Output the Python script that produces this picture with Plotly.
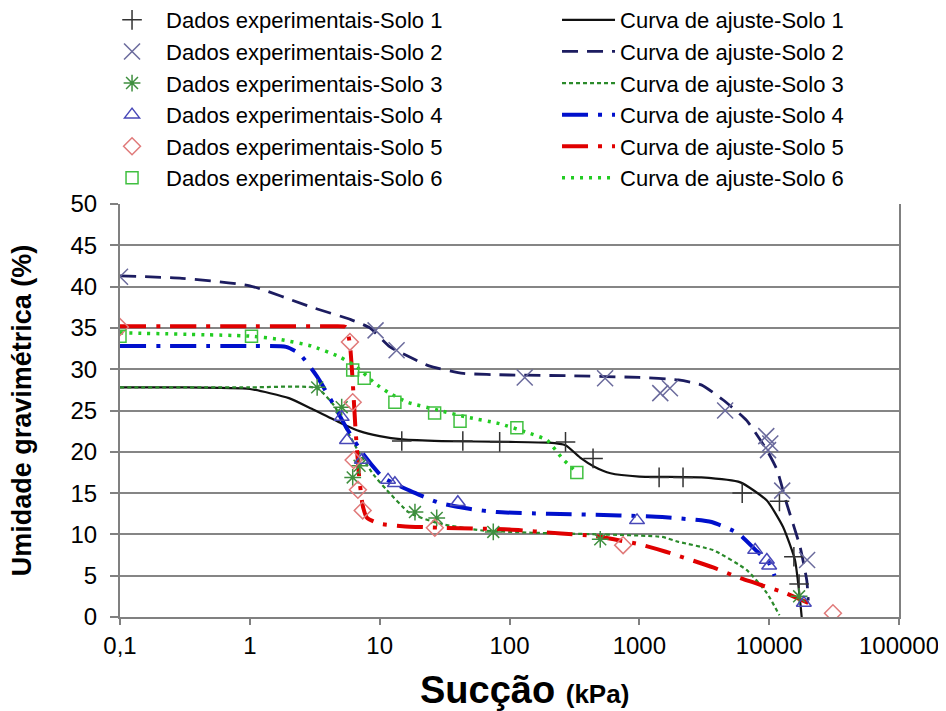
import plotly.graph_objects as go

# ---------------- data ----------------
# Experimental data
solo1_x = [14.8, 43.7, 84, 270, 440, 1420, 2170, 6200, 12000, 15500, 17000]
solo1_y = [21.3, 21.3, 21.2, 21.2, 19.2, 16.9, 16.9, 15.0, 14.0, 7.3, 4.0]

solo2_x = [0.1, 9.3, 13.5, 131, 545, 1450, 1720, 4580, 9500, 10200, 9800, 12600, 19600]
solo2_y = [41.2, 34.7, 32.3, 29.0, 28.9, 27.1, 27.7, 25.0, 21.9, 21.0, 20.2, 15.3, 6.9]

solo3_x = [3.3, 5.1, 6.2, 7.0, 18.7, 27.5, 75, 500, 17000]
solo3_y = [27.8, 25.4, 16.9, 18.3, 12.7, 12.0, 10.3, 9.4, 2.5]

solo4_x = [5.1, 5.6, 7.3, 11.6, 13.1, 40, 960, 7800, 9600, 10000, 18500]
solo4_y = [24.2, 21.4, 19.0, 16.6, 16.2, 13.9, 11.7, 8.1, 6.9, 6.2, 1.7]

solo5_x = [0.1, 5.9, 6.2, 6.3, 6.8, 7.4, 26.6, 750, 31000]
solo5_y = [35.1, 33.3, 26.0, 19.0, 15.4, 12.9, 10.8, 8.7, 0.45]

solo6_x = [0.1, 1.03, 6.2, 7.6, 13.1, 26.5, 41.6, 114, 330]
solo6_y = [34.0, 34.0, 29.9, 28.9, 26.0, 24.7, 23.7, 22.9, 17.5]

# Fitted curves
curva1_x = [0.1, 0.3, 1, 2, 3, 5, 7, 10, 15, 30, 100, 200, 270, 350, 450, 600, 1000, 3000, 6000, 9600, 12800, 15800, 17300, 17800]
curva1_y = [27.8, 27.8, 27.6, 26.5, 25.2, 23.5, 22.5, 21.9, 21.5, 21.3, 21.2, 21.1, 20.8, 19.3, 18.2, 17.4, 17.0, 16.9, 16.3, 14.1, 10.9, 6.9, 2.0, 0.0]

curva2_x = [0.1, 0.3, 1, 3, 6, 8.4, 12, 18, 24, 44, 100, 300, 1000, 2000, 3000, 4400, 6700, 9600, 11500, 13600, 17300, 19500, 20000]
curva2_y = [41.3, 41.0, 40.1, 37.5, 36.0, 35.0, 32.7, 31.3, 30.4, 29.5, 29.3, 29.2, 29.0, 28.7, 28.1, 26.3, 23.8, 20.2, 17.8, 13.8, 8.5, 4.4, 2.0]

curva3_x = [0.1, 1, 3.3, 4.5, 5.6, 7, 9, 11.3, 17, 29, 60, 150, 500, 1500, 2000, 3700, 6700, 9600, 12000]
curva3_y = [27.8, 27.8, 27.7, 25.5, 22.6, 19.8, 17.2, 15.4, 12.6, 11.3, 10.5, 10.2, 10.0, 9.7, 9.1, 8.1, 5.7, 2.9, 0.2]

curva4_x = [0.1, 1, 1.9, 2.4, 3.3, 4.5, 5.5, 7.4, 10.6, 17, 29, 49, 80, 200, 700, 1500, 3600, 5800, 8000, 10000, 11000]
curva4_y = [32.8, 32.8, 32.7, 31.9, 29.1, 25.5, 23.0, 19.8, 16.9, 15.3, 13.8, 13.1, 12.7, 12.5, 12.3, 12.1, 11.5, 10.1, 8.0, 6.5, 5.0]

curva5_x = [0.1, 1, 4.5, 5.5, 5.9, 6.2, 6.5, 6.9, 7.4, 8, 10, 15, 30, 100, 250, 450, 1000, 1600, 3700, 6000, 13300, 20000]
curva5_y = [35.2, 35.2, 35.2, 35.1, 33.0, 28.5, 23.0, 17.5, 13.5, 12.0, 11.3, 11.0, 10.8, 10.6, 10.1, 9.8, 8.8, 7.9, 6.0, 4.7, 2.9, 1.7]

curva6_x = [0.1, 1, 1.7, 3, 4.9, 6.6, 9.2, 11.6, 16.4, 29, 47, 84, 145, 195, 255, 330]
curva6_y = [34.4, 34.0, 33.6, 32.8, 31.5, 30.3, 28.3, 27.2, 26.0, 25.0, 24.2, 23.4, 22.2, 21.4, 19.2, 17.5]

tick_vals = [0.1, 1, 10, 100, 1000, 10000, 100000]
tick_text = ["0,1", "1", "10", "100", "1000", "10000", "100000"]

data_names = ["Dados experimentais-Solo 1", "Dados experimentais-Solo 2", "Dados experimentais-Solo 3",
              "Dados experimentais-Solo 4", "Dados experimentais-Solo 5", "Dados experimentais-Solo 6"]
curve_names = ["Curva de ajuste-Solo 1", "Curva de ajuste-Solo 2", "Curva de ajuste-Solo 3",
               "Curva de ajuste-Solo 4", "Curva de ajuste-Solo 5", "Curva de ajuste-Solo 6"]

# ---------------- styles ----------------
FONT = "Arial, 'Liberation Sans', sans-serif"
data_sets = [(solo1_x, solo1_y), (solo2_x, solo2_y), (solo3_x, solo3_y),
             (solo4_x, solo4_y), (solo5_x, solo5_y), (solo6_x, solo6_y)]
curve_sets = [(curva1_x, curva1_y), (curva2_x, curva2_y), (curva3_x, curva3_y),
              (curva4_x, curva4_y), (curva5_x, curva5_y), (curva6_x, curva6_y)]
marker_styles = [
    dict(symbol="cross-thin-open", size=14, line=dict(color="#333333", width=1.5)),
    dict(symbol="x-thin-open", size=16, line=dict(color="#6a6a9c", width=1.5)),
    dict(symbol="asterisk-open", size=14, line=dict(color="#3f8f3f", width=1.5)),
    dict(symbol="triangle-up-open", size=13, line=dict(color="#4848b8", width=1.5)),
    dict(symbol="diamond-open", size=13, line=dict(color="#e07a7a", width=1.5)),
    dict(symbol="square-open", size=12, line=dict(color="#40c040", width=1.5)),
]
marker_colors = ["#333333", "#6a6a9c", "#3f8f3f", "#4848b8", "#e07a7a", "#40c040"]
line_styles = [
    dict(color="#111111", width=2.2, dash="solid"),
    dict(color="#1c1c60", width=2.8, dash="16px,9px"),
    dict(color="#2a8a2a", width=2.2, dash="4px,3px"),
    dict(color="#0010cc", width=4, dash="26px,10px,4px,10px"),
    dict(color="#e00000", width=4, dash="26px,10px,4px,10px"),
    dict(color="#22cc22", width=3.5, dash="3px,6px"),
]

fig = go.Figure()

for i, (cx, cy) in enumerate(curve_sets):
    fig.add_trace(go.Scatter(
        x=cx, y=cy, mode="lines", name=curve_names[i],
        line=dict(shape="spline", smoothing=0.5, **line_styles[i]),
        legend="legend2", legendgroup="c%d" % i,
    ))

for i, (dx, dy) in enumerate(data_sets):
    fig.add_trace(go.Scatter(
        x=dx, y=dy, mode="markers", name=data_names[i],
        marker=dict(color=marker_colors[i], **marker_styles[i]),
        legend="legend", legendgroup="d%d" % i,
    ))

# figure is 938x703 (the page adds an 8px body margin); plot area 112..891 x 196..609
legend_common = dict(
    xref="paper", yref="paper", yanchor="top", xanchor="left",
    orientation="v", traceorder="grouped", tracegroupgap=0,
    bgcolor="rgba(0,0,0,0)", borderwidth=0,
    font=dict(family=FONT, size=22, color="#000000"),
)

fig.update_layout(
    width=938, height=703,
    paper_bgcolor="white", plot_bgcolor="white",
    margin=dict(l=112, r=47, t=196, b=94, autoexpand=False),
    font=dict(family=FONT, color="#000000"),
    showlegend=True,
    legend=dict(x=-0.0282, y=1.4963, itemwidth=58, **legend_common),
    legend2=dict(x=0.561, y=1.4963, itemwidth=53, **legend_common),
    xaxis=dict(
        type="log", range=[-1, 5], tickvals=tick_vals, ticktext=tick_text,
        showgrid=False, zeroline=False,
        showline=True, linecolor="#808080", linewidth=2,
        ticks="outside", ticklen=6, tickwidth=2, tickcolor="#808080",
        tickfont=dict(family=FONT, size=24, color="#000000"),
    ),
    yaxis=dict(
        range=[0, 50], dtick=5, tick0=0,
        showgrid=True, gridcolor="#858585", gridwidth=2,
        zeroline=False, showline=True, linecolor="#808080", linewidth=2, mirror=True,
        ticks="outside", ticklen=8, tickwidth=2, tickcolor="#808080",
        ticklabelstandoff=8,
        tickfont=dict(family=FONT, size=24, color="#000000"),
    ),
    annotations=[
        dict(text="<b>Umidade gravimétrica (%)</b>", textangle=-90,
             xref="paper", yref="paper", x=-0.126, y=0.5,
             xanchor="center", yanchor="middle", showarrow=False,
             font=dict(family=FONT, size=27, color="#000000")),
        dict(text="<b>Sucção</b> <b><span style='font-size:26px'>(kPa)</span></b>",
             xref="paper", yref="paper", x=0.519, y=-0.177,
             xanchor="center", yanchor="middle", showarrow=False,
             font=dict(family=FONT, size=38, color="#000000")),
    ],
)

fig.write_html("out.html")
